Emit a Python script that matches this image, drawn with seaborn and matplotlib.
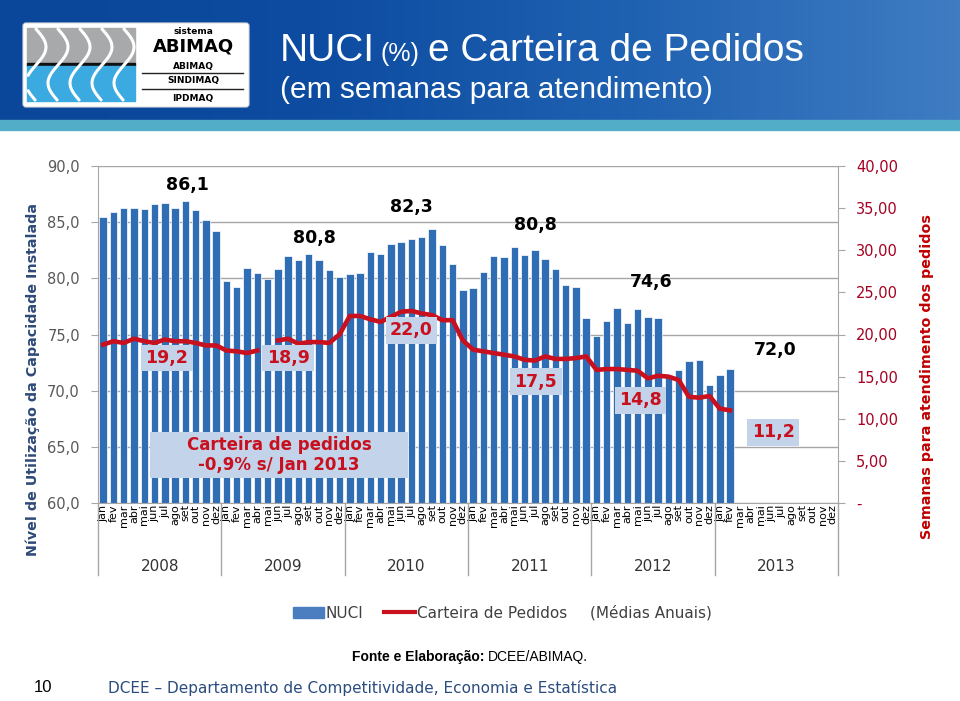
import numpy as np
import pandas as pd
import matplotlib
matplotlib.use("Agg")
import matplotlib.pyplot as plt
import seaborn as sns
from matplotlib import font_manager
from matplotlib.patches import Rectangle, FancyBboxPatch, Patch
from matplotlib.lines import Line2D
from matplotlib.colors import LinearSegmentedColormap
import matplotlib.transforms as mtransforms

meses = ["jan", "fev", "mar", "abr", "mai", "jun", "jul", "ago", "set", "out", "nov", "dez"]
anos = ["2008", "2009", "2010", "2011", "2012", "2013"]

# NUCI mensal (%), jan/2008 a fev/2013
nuci = [85.5, 85.9, 86.3, 86.3, 86.2, 86.6, 86.7, 86.3, 86.9, 86.1, 85.2, 84.2,
        79.8, 79.2, 80.9, 80.5, 79.9, 80.8, 82.0, 81.6, 82.2, 81.6, 80.7, 80.1,
        80.4, 80.5, 82.3, 82.2, 83.1, 83.2, 83.5, 83.7, 84.4, 83.0, 81.3, 79.0,
        79.1, 80.6, 82.0, 81.9, 82.8, 82.1, 82.5, 81.7, 80.8, 79.4, 79.2, 76.5,
        74.9, 76.2, 77.4, 76.0, 77.3, 76.6, 76.5, 71.2, 71.8, 72.6, 72.7, 70.5,
        71.4, 71.9]

# Carteira de pedidos (semanas), mai/2009 sem dado
carteira = [18.8, 19.2, 19.0, 19.5, 19.2, 19.0, 19.4, 19.2, 19.2, 19.0, 18.7, 18.7,
            18.1, 18.0, 17.8, 18.1, np.nan, 19.3, 19.5, 18.9, 19.1, 19.1, 19.0, 20.0,
            22.2, 22.2, 21.8, 21.5, 22.1, 22.7, 22.8, 22.5, 22.3, 21.7, 21.7, 19.3,
            18.2, 18.0, 17.8, 17.6, 17.4, 17.0, 16.9, 17.4, 17.1, 17.1, 17.2, 17.4,
            15.8, 15.9, 15.9, 15.8, 15.7, 14.8, 15.1, 15.0, 14.6, 12.6, 12.5, 12.7,
            11.2, 11.0]

media_nuci = ["86,1", "80,8", "82,3", "80,8", "74,6", "72,0"]
media_cart = ["19,2", "18,9", "22,0", "17,5", "14,8", "11,2"]

BLUE = "#2F6DB5"
RED = "#C8101E"
LBOX = "#C2D3EA"

names = {f.name for f in font_manager.fontManager.ttflist}
title_font = "Liberation Sans Narrow" if "Liberation Sans Narrow" in names else "Liberation Sans"
plt.rcParams["font.family"] = ["DejaVu Sans"]

W, H = 960, 701
fig = plt.figure(figsize=(9.6, 7.01), dpi=100)
fig.patch.set_facecolor("white")
rend = fig.canvas.get_renderer()

def fx(px):
    return px / W

def fy(py):
    return 1 - py / H

# ---------- header ----------
hdr = fig.add_axes([0, fy(120), 1, 120 / H])
cmap = LinearSegmentedColormap.from_list("hdr", ["#0A4699", "#0D4CA1", "#2062B2", "#3F7CC2"])
grad = np.tile(np.linspace(0, 1, 256), (20, 1))
hdr.imshow(grad, aspect="auto", cmap=cmap, extent=[0, 1, 0, 1])
hdr.set_xlim(0, 1)
hdr.set_ylim(0, 1)
hdr.axis("off")
fig.patches.append(Rectangle((0, fy(130)), 1, 10 / H, transform=fig.transFigure,
                             color="#52AEC8", zorder=0))

xpos = 280
for txt, size, gap in [("NUCI", 28, 5), ("(%)", 18, 9), ("e Carteira de Pedidos", 28, 0)]:
    t = fig.text(fx(xpos), fy(61), txt, color="white", fontsize=size, family=title_font,
                 va="baseline")
    xpos += t.get_window_extent(rend).width + gap
fig.text(fx(280), fy(98), "(em semanas para atendimento)", color="white", fontsize=21.5,
         family=title_font, va="baseline")

# ---------- logo ----------
lg = fig.add_axes([fx(22), fy(108), (250 - 22) / W, (108 - 22) / H])
lg.set_xlim(22, 250)
lg.set_ylim(108, 22)
lg.axis("off")
lg.add_patch(FancyBboxPatch((23, 23), 226, 84, boxstyle="round,pad=0,rounding_size=3",
                            fc="white", ec="#DDDDDD", lw=0.8))
lg.add_patch(Rectangle((27, 28), 108, 35, color="#A7A9AB"))
lg.add_patch(Rectangle((27, 63), 108, 3, color="#111111"))
lg.add_patch(Rectangle((27, 66), 108, 35, color="#3AAAE0"))
yy = np.linspace(29, 100, 200)
for off in [36, 58, 80, 102, 124]:
    xx = off + 10 * np.sin(np.pi * (yy - 29) / 36)
    m = (xx > 28) & (xx < 134)
    lg.plot(np.where(m, xx, np.nan), yy, color="white", lw=2.2, solid_capstyle="round")
lg.text(193, 32, "sistema", fontsize=6.5, fontweight="bold", ha="center", va="center")
lg.text(193, 47, "ABIMAQ", fontsize=13, fontweight="bold", ha="center", va="center")
lg.text(193, 66, "ABIMAQ", fontsize=6.5, fontweight="bold", ha="center", va="center")
lg.plot([142, 243], [73, 73], color="#222222", lw=1)
lg.text(193, 81, "SINDIMAQ", fontsize=6.5, fontweight="bold", ha="center", va="center")
lg.plot([142, 243], [89, 89], color="#222222", lw=1)
lg.text(193, 98, "IPDMAQ", fontsize=6.5, fontweight="bold", ha="center", va="center")

# ---------- chart ----------
keys = [f"{a}-{m}" for a in anos for m in meses]
df = pd.DataFrame({"mes": keys[:len(nuci)], "nuci": nuci, "carteira": carteira})
df["pos"] = np.arange(len(df))
df["seg"] = (df["pos"] > 16).astype(int)

ax = fig.add_axes([fx(98), fy(503), (838 - 98) / W, (503 - 166) / H])
sns.barplot(data=df, x="mes", y="nuci", order=keys, color=BLUE, saturation=1,
            width=0.72, edgecolor="white", linewidth=0.5, ax=ax)
ax.set_ylim(60, 90)
ax.set_yticks(np.arange(60, 91, 5))
ax.set_yticklabels([f"{v:.1f}".replace(".", ",") for v in np.arange(60, 91, 5)],
                   color="#595959", fontsize=10.5)
ax.set_xticks(range(len(keys)))
ax.set_xticklabels(meses * len(anos), rotation=90, fontsize=8, color="black")
ax.tick_params(axis="x", length=0, pad=1)
ax.tick_params(axis="y", length=5, color="#A6A6A6", pad=8)
ax.yaxis.grid(True, color="#A6A6A6", lw=1)
ax.set_axisbelow(True)
ax.set_xlabel("")
ax.set_ylabel("")
for s in ["top", "right"]:
    ax.spines[s].set_visible(False)
for s in ["left", "bottom"]:
    ax.spines[s].set_color("#A6A6A6")

ax2 = ax.twinx()
dl = df.dropna(subset=["carteira"])
sns.lineplot(data=dl, x="pos", y="carteira", units="seg", estimator=None, color=RED,
             lw=3.3, ax=ax2)
ax2.set_ylim(0, 40)
ax2.set_yticks(np.arange(0, 41, 5))
ax2.set_yticklabels(["-"] + [f"{v},00" for v in range(5, 41, 5)], color="#A50021",
                    fontsize=10.5)
ax2.tick_params(axis="y", length=5, color="#A6A6A6", pad=8)
ax2.set_ylabel("")
ax2.set_xlabel("")
for s in ["top", "left", "bottom"]:
    ax2.spines[s].set_visible(False)
ax2.spines["right"].set_color("#A6A6A6")
ax.set_xlim(-0.5, len(keys) - 0.5)

# year groups below month labels
blend = mtransforms.blended_transform_factory(ax.transData, ax.transAxes)
for b in np.arange(-0.5, len(keys), 12):
    ax.plot([b, b], [0, -0.215], transform=blend, color="#A6A6A6", lw=1, clip_on=False)
for i, a in enumerate(anos):
    ax.text(12 * i + 5.5, -0.187, a, transform=blend, ha="center", va="center",
            fontsize=11, color="#333333")

# annual averages
nuci_pos = [(8.25, 88.3), (20.6, 83.6), (29.95, 86.35), (42.1, 84.75), (53.3, 79.7), (65.4, 73.6)]
for (x, y), t in zip(nuci_pos, media_nuci):
    ax.text(x, y, t, ha="center", va="center", fontsize=12.5, fontweight="bold",
            color="black", zorder=5)
cart_pos = [(6.2, 17.2), (18.0, 17.2), (30.0, 20.5), (42.1, 14.4), (52.3, 12.2), (65.2, 8.4)]
for (x, y), t in zip(cart_pos, media_cart):
    ax2.text(x, y, t, ha="center", va="center", fontsize=12.5, fontweight="bold",
             color=RED, zorder=5,
             bbox=dict(boxstyle="square,pad=0.25", fc=LBOX, ec="none"))

ax2.add_patch(Rectangle((52 / 740, 25 / 337), 258 / 740, 46 / 337, transform=ax2.transAxes,
                        fc=LBOX, ec="none", zorder=4))
ax2.text(181 / 740, 48 / 337, "Carteira de pedidos\n-0,9% s/ Jan 2013", transform=ax2.transAxes,
         ha="center", va="center", fontsize=12, fontweight="bold", color=RED,
         linespacing=1.15, zorder=5)

# axis titles
fig.text(fx(33), fy(380), "Nível de Utilização da Capacidade Instalada", rotation=90,
         ha="center", va="center", fontsize=10.3, fontweight="bold", color="#2E4A78")
fig.text(fx(927), fy(377), "Semanas para atendimento dos pedidos", rotation=90,
         ha="center", va="center", fontsize=10.3, fontweight="bold", color="#C00000")

# legend
handles = [Patch(color="#4A7EC0"), Line2D([], [], color=RED, lw=3)]
fig.legend(handles, ["NUCI", "Carteira de Pedidos"], loc="center",
           bbox_to_anchor=(fx(430), fy(613)), ncol=2, frameon=False, fontsize=11,
           handlelength=2.0, handletextpad=0.1, columnspacing=1.4, labelcolor="#404040")
fig.text(fx(590), fy(613), "(Médias Anuais)", fontsize=11, color="#404040", va="center")

# footer
fig.text(fx(352), fy(657), "Fonte e Elaboração:", family="Liberation Sans", fontweight="bold",
         fontsize=10, va="center")
fig.text(fx(488), fy(657), "DCEE/ABIMAQ.", family="Liberation Sans", fontsize=10, va="center")
fig.text(fx(43), fy(688), "10", family="Liberation Sans", fontsize=12, ha="center", va="center")
fig.text(fx(108), fy(688), "DCEE – Departamento de Competitividade, Economia e Estatística",
         fontsize=11, color="#2B4C7E", va="center")

fig.savefig("out.png", dpi=100)
